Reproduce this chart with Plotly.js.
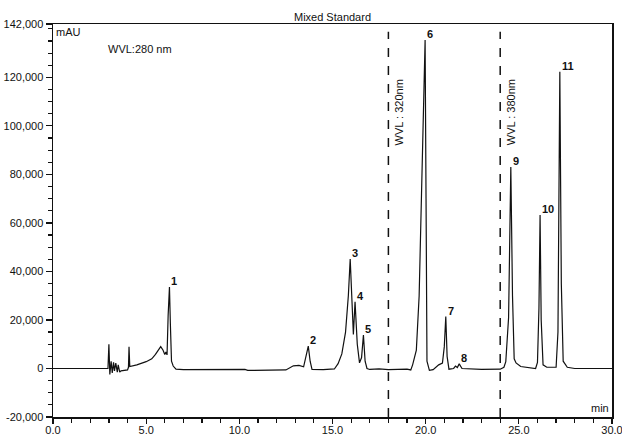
<!DOCTYPE html>
<html>
<head>
<meta charset="utf-8">
<script src="https://cdn.plot.ly/plotly-3.0.1.min.js"></script>
<style>
html,body{margin:0;padding:0;background:#fff;}
#chart{width:622px;height:437px;}
</style>
</head>
<body>
<div id="chart"></div>
<script>
// Chromatogram trace: retention time (min) and signal (mAU)
var timeMin = [0, 2.95, 3.0, 3.05, 3.12, 3.18, 3.25, 3.3, 3.37, 3.45, 3.5, 3.58, 3.65, 4.0, 4.05, 4.08, 4.12, 4.5, 5.0, 5.3, 5.5, 5.65, 5.78, 5.9, 6.0, 6.06, 6.12, 6.18, 6.25, 6.3, 6.36, 6.45, 6.6, 7.0, 8.0, 10.0, 10.3, 10.45, 12.0, 12.5, 12.9, 13.2, 13.45, 13.58, 13.7, 13.8, 13.9, 14.5, 15.0, 15.1, 15.3, 15.5, 15.7, 15.85, 15.95, 16.04, 16.12, 16.21, 16.33, 16.45, 16.56, 16.66, 16.75, 16.85, 17.0, 17.5, 18.0, 19.0, 19.2, 19.3, 19.5, 19.65, 19.79, 19.9, 19.97, 20.02, 20.07, 20.2, 20.4, 20.7, 20.9, 21.0, 21.08, 21.15, 21.25, 21.5, 21.6, 21.7, 21.8, 21.95, 22.5, 23.0, 24.0, 24.2, 24.3, 24.45, 24.57, 24.66, 24.75, 24.85, 25.1, 25.5, 25.9, 26.0, 26.08, 26.14, 26.2, 26.3, 26.5, 27.0, 27.1, 27.2, 27.28, 27.38, 27.6, 28.0, 30.0];
var signalMAU = [0, 0, 10000, -2500, 3000, -1800, 2500, -1000, 2200, -1500, 1500, -1500, -1000, -600, 500, 9000, 800, 1500, 2800, 4000, 5800, 7800, 9000, 7600, 5800, 6800, 5600, 22000, 33600, 18000, 3000, 1000, -300, -500, -500, -700, -400, -800, -800, -600, 1100, 1300, 700, 4500, 9200, 3000, -400, -500, -400, -200, 2000, 6000, 15000, 30000, 45100, 24000, 14000, 27500, 10000, 2300, 4500, 13800, 3000, 0, -400, -200, -500, -300, -600, 1500, 7600, 30000, 74000, 110000, 135400, 70000, 3000, -800, -500, 1500, 2200, 9000, 21400, 5000, -300, 0, 1000, 400, 1900, 0, -300, -400, -300, 500, 2800, 21000, 83000, 30000, 4000, 2300, 800, 300, 0, 2500, 25000, 63300, 20000, 1500, 500, 500, 15000, 122300, 35000, 3000, 500, 0, 0];

// Peak labels
var peakNames = ['1','2','3','4','5','6','7','8','9','10','11'];
var peakTimes = [6.25, 13.7, 15.95, 16.21, 16.66, 19.97, 21.08, 21.8, 24.57, 26.14, 27.2];
var peakHeights = [33600, 9200, 45100, 27500, 13800, 135400, 21400, 1900, 83000, 63300, 122300];

// Wavelength switch markers
var wvlTimes = [18.0, 24.0];
var wvlLabels = ['WVL : 320nm', 'WVL : 380nm'];

// Axis ticks
var yTickVals = [-20000, 0, 20000, 40000, 60000, 80000, 100000, 120000, 142000];
var yTickText = ['-20,000', '0', '20,000', '40,000', '60,000', '80,000', '100,000', '120,000', '142,000'];
var xTickVals = [0, 5, 10, 15, 20, 25, 30];
var xTickText = ['0.0', '5.0', '10.0', '15.0', '20.0', '25.0', '30.0'];

var FONT = 'Liberation Sans, Arial, sans-serif';
var INK = '#111111';

var annotations = peakNames.map(function (n, i) {
  return {
    x: peakTimes[i], y: peakHeights[i], xref: 'x', yref: 'y',
    text: '<b>' + n + '</b>', showarrow: false,
    xanchor: 'left', yanchor: 'bottom', xshift: 0, yshift: -2,
    font: {family: FONT, size: 11, color: INK}
  };
});
wvlTimes.forEach(function (t, i) {
  annotations.push({
    x: t, y: 0.776, xref: 'x', yref: 'paper', text: wvlLabels[i], showarrow: false,
    textangle: -90, xanchor: 'left', yanchor: 'middle', xshift: 3,
    font: {family: FONT, size: 11, color: INK}
  });
});
annotations.push({x: 0, y: 1, xref: 'paper', yref: 'paper', text: 'mAU', showarrow: false,
  xanchor: 'left', yanchor: 'top', xshift: 1, yshift: 0, font: {family: FONT, size: 11, color: INK}});
annotations.push({x: 0.094, y: 0.936, xref: 'paper', yref: 'paper', text: 'WVL:280 nm', showarrow: false,
  xanchor: 'left', yanchor: 'middle', font: {family: FONT, size: 11, color: INK}});
annotations.push({x: 1, y: 0, xref: 'paper', yref: 'paper', text: 'min', showarrow: false,
  xanchor: 'right', yanchor: 'bottom', xshift: -1, yshift: 1, font: {family: FONT, size: 11, color: INK}});

var shapes = wvlTimes.map(function (t) {
  return {type: 'line', xref: 'x', yref: 'paper', x0: t, x1: t, y0: 0, y1: 0.98,
    line: {color: INK, width: 1.5, dash: 'dash'}};
});

var trace = {
  x: timeMin, y: signalMAU, type: 'scatter', mode: 'lines',
  line: {color: INK, width: 1.2}, hoverinfo: 'skip'
};

var layout = {
  width: 622, height: 437,
  margin: {l: 53, r: 10, t: 24, b: 20, pad: 0},
  paper_bgcolor: '#ffffff', plot_bgcolor: '#ffffff',
  showlegend: false,
  title: {text: 'Mixed Standard', font: {family: FONT, size: 11, color: INK},
    x: 0.5, xref: 'paper', xanchor: 'center', y: 1 - 17 / 437, yref: 'container', yanchor: 'middle'},
  font: {family: FONT, size: 11, color: INK},
  xaxis: {
    range: [0, 30], tickmode: 'array', tickvals: xTickVals, ticktext: xTickText,
    ticks: 'outside', ticklen: 5, tickwidth: 1.2, tickcolor: INK,
    ticklabelstandoff: -3, ticklabeloverflow: 'allow',
    minor: {tickmode: 'linear', tick0: 0, dtick: 1, ticks: 'outside', ticklen: 4, tickcolor: INK, showgrid: false},
    showline: true, linecolor: INK, linewidth: 1.5, mirror: true,
    showgrid: false, zeroline: false, automargin: false,
    tickfont: {family: FONT, size: 11, color: INK}
  },
  yaxis: {
    range: [-20000, 142000], tickmode: 'array', tickvals: yTickVals, ticktext: yTickText,
    ticks: 'outside', ticklen: 6, tickwidth: 1.2, tickcolor: INK, ticklabeloverflow: 'allow',
    minor: {tickmode: 'linear', tick0: 0, dtick: 5000, ticks: 'outside', ticklen: 4, tickcolor: INK, showgrid: false},
    showline: true, linecolor: INK, linewidth: 1.5, mirror: true,
    showgrid: false, zeroline: false, automargin: false,
    tickfont: {family: FONT, size: 11, color: INK}
  },
  annotations: annotations,
  shapes: shapes
};

Plotly.newPlot('chart', [trace], layout, {displayModeBar: false, staticPlot: true});
</script>
</body>
</html>
